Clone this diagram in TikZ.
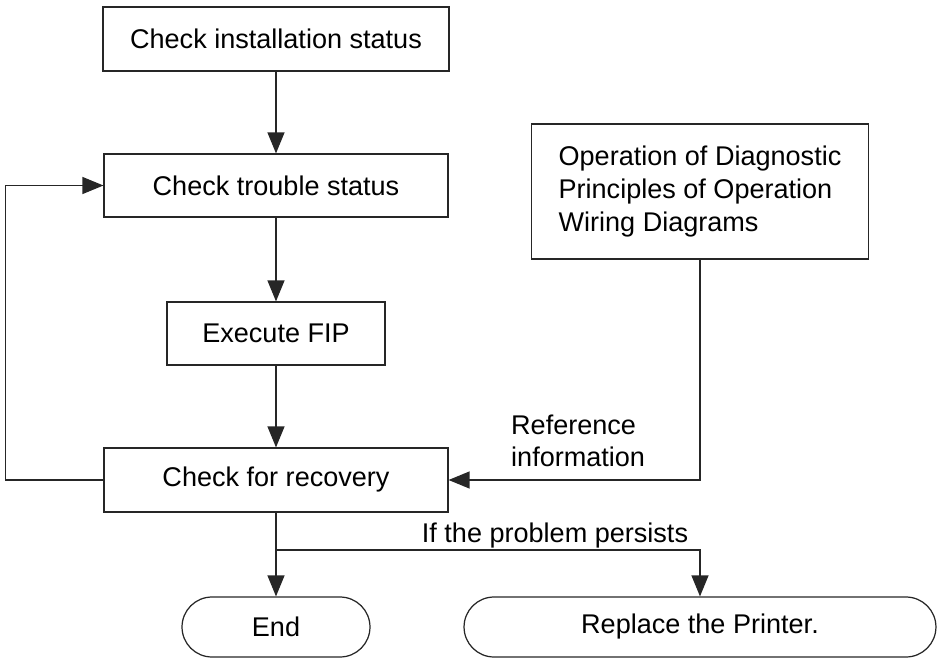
\documentclass[tikz,border=0pt]{standalone}
\usepackage{fontspec}
\setmainfont{Liberation Sans}
\usetikzlibrary{arrows.meta,shapes.misc}
\begin{document}
\begin{tikzpicture}[x=0.02cm,y=-0.02cm,
        font=\fontsize{15.4pt}{18.6pt}\selectfont,
        box/.style={shape=rectangle,draw=black!85,line width=0.7pt,inner sep=0pt},
        term/.style={shape=rounded rectangle,draw=black!85,line width=0.7pt,inner sep=0pt,minimum height=1.2cm},
        arr/.style={-{Triangle[length=0.42cm,width=0.34cm]},line width=0.7pt,black!85}]
        \useasboundingbox (0,0) rectangle (938,659);
        \node[box,minimum width=6.92cm,minimum height=1.28cm] (inst) at (276,39) {Check installation status};
        \node[box,minimum width=6.88cm,minimum height=1.26cm] (trouble) at (276,185.5) {Check trouble status};
        \node[box,minimum width=4.36cm,minimum height=1.26cm] (fip) at (276,333.5) {Execute FIP};
        \node[box,minimum width=6.88cm,minimum height=1.28cm] (recov) at (276,480) {Check for recovery};
        \node[box,minimum width=6.74cm,minimum height=2.7cm,align=left] (ops) at (700,191.5)
            {Operation of Diagnostic\\Principles of Operation\\Wiring Diagrams};
        \node[term,minimum width=3.76cm] (end) at (276,627) {End};
        \node[term,minimum width=9.44cm] (repl) at (700,627) {Replace the Printer.};
        \node[align=left,anchor=west] (refinfo) at (505,441) {Reference\\information};
        \node[anchor=base] (persist) at (555,542) {If the problem persists};
        \coordinate (split) at (276,550);

        \path[arr]
        (inst) edge (trouble)
        (trouble) edge (fip)
        (fip) edge (recov)
        ;

        \draw[arr] (recov.west) -- ++(-98,0) |- (trouble.west);
        \draw[arr] (ops.south) |- (recov.east);
        \draw[arr] (recov.south) -- (end.north);
        \draw[arr] (split) -| (repl.north);
\end{tikzpicture}
\end{document}
